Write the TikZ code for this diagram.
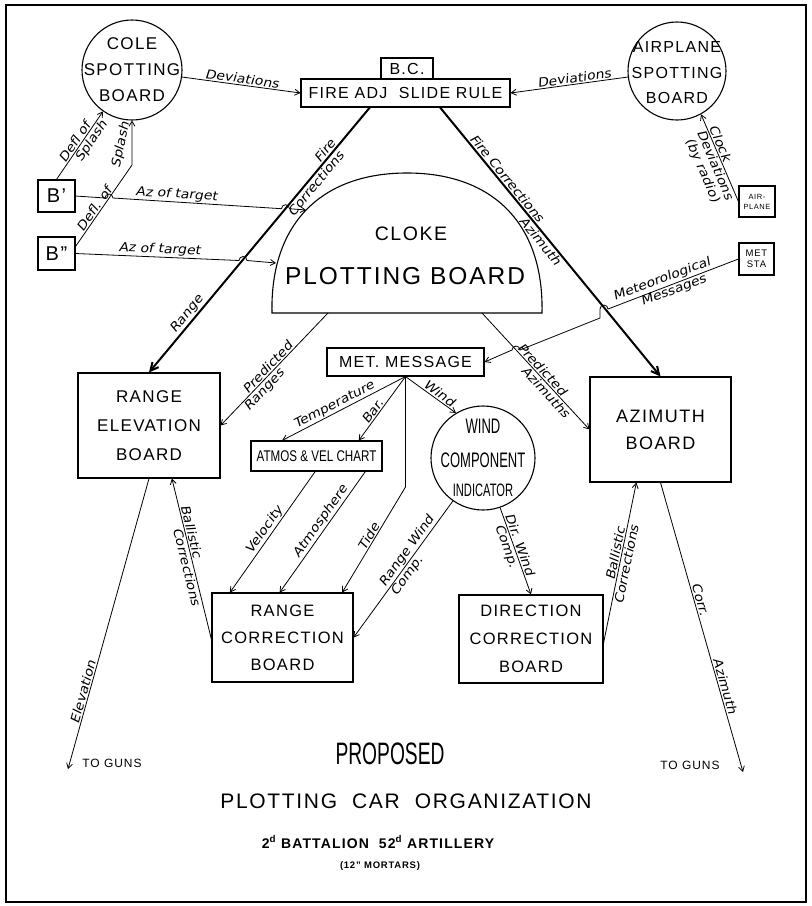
\documentclass[tikz,border=0pt]{standalone}
\usepackage{fontspec}
\setmainfont{Liberation Sans}[LetterSpace=8]
\newfontfamily\lblfont{DejaVu Sans}[FakeSlant=0.18,FakeStretch=1.12]
\newfontfamily\condA{Liberation Sans}[FakeStretch=0.62]
\newfontfamily\condB{Liberation Sans}[FakeStretch=0.75]
\usetikzlibrary{arrows.meta,calc}
\tikzset{
  box/.style={draw, line width=1.1pt, rectangle, inner sep=0pt, align=center},
  circ/.style={draw, line width=1.1pt, circle, inner sep=0pt},
  conn/.style={line width=0.8pt, -{Straight Barb[length=5pt,width=6pt]}},
  heavy/.style={line width=2pt, -{Straight Barb[length=8pt,width=8pt]}},
  lbl/.style={font=\lblfont\fontsize{12.5}{13.5}\selectfont, inner sep=1.2pt},
}
\begin{document}
\begin{tikzpicture}[x=1pt,y=-1pt]
\useasboundingbox (0,0) rectangle (812,906);
\draw[line width=1.8pt] (6,5) rectangle (806,902);

% ---------- top ----------
\node[circ, minimum size=100pt] (cole) at (132,70) {};
\node[align=center, font=\fontsize{17}{26}\selectfont] (coleT) at (132,70) {COLE\\SPOTTING\\BOARD};
\node[circ, minimum size=98pt] (apl) at (677,71) {};
\node[align=center, font=\fontsize{16}{25.5}\selectfont] (aplT) at (677,73) {AIRPLANE\\SPOTTING\\BOARD};

\node[box, minimum width=209pt, minimum height=28pt, font=\fontsize{16}{18}\selectfont] (fire) at (405.5,93) {FIRE ADJ~ SLIDE RULE};
\node[box, minimum width=52pt, minimum height=21pt, font=\fontsize{16}{18}\selectfont] (bc) at (407,68.5) {B.C.};

\node[box, minimum width=37pt, minimum height=32pt, font=\fontsize{20}{22}\selectfont] (b1) at (56.5,196) {B'};
\node[box, minimum width=37pt, minimum height=33pt, font=\fontsize{20}{22}\selectfont] (b2) at (56.5,253.5) {B''};

\node[box, minimum width=36pt, minimum height=31pt, font=\fontsize{7.5}{10}\selectfont] (apbox) at (757,201.5) {AIR-\\PLANE};
\node[box, minimum width=35pt, minimum height=32pt, font=\fontsize{9.5}{11}\selectfont] (metsta) at (756.5,259) {MET\\STA};

% ---------- dome ----------
\draw[line width=1.1pt] (272,313) .. controls (270,225) and (320,173) .. (407,173)
  .. controls (494,173) and (544,225) .. (542,313) -- cycle;
\node[font=\fontsize{19.5}{22}\selectfont] (cloke) at (411,234) {CLOKE};
\node[font=\fontsize{24.5}{26}\selectfont] (pb) at (405,276) {PLOTTING BOARD};
\coordinate (dA) at (306,210);
\coordinate (dB) at (276,263);
\coordinate (dPR) at (328,313);
\coordinate (dPA) at (482,313);

% ---------- middle ----------
\node[box, minimum width=142pt, minimum height=105pt, font=\fontsize{17}{29}\selectfont] (re) at (149,425.5) {RANGE\\ELEVATION\\BOARD};
\node[box, minimum width=141pt, minimum height=105pt, font=\fontsize{18}{27}\selectfont] (az) at (660.5,429.5) {AZIMUTH\\BOARD};
\node[box, minimum width=157pt, minimum height=28pt, font=\fontsize{16}{18}\selectfont] (met) at (405.5,362) {MET. MESSAGE};
\node[box, minimum width=131pt, minimum height=30pt, font=\condB\fontsize{15.5}{17}\selectfont] (atmos) at (316.5,456) {ATMOS \& VEL CHART};
\node[circ, minimum size=104pt] (wind) at (483,458) {};
\node[font=\condA\fontsize{21}{23}\selectfont] (w1) at (483,426) {WIND};
\node[font=\condA\fontsize{21}{23}\selectfont] (w2) at (483,460) {COMPONENT};
\node[font=\condA\fontsize{18}{20}\selectfont] (w3) at (483,490) {INDICATOR};

% ---------- bottom ----------
\node[box, minimum width=141pt, minimum height=89pt, font=\fontsize{16.5}{27}\selectfont] (rc) at (282.5,637.5) {RANGE\\CORRECTION\\BOARD};
\node[box, minimum width=144pt, minimum height=88pt, font=\fontsize{16.5}{28}\selectfont] (dc) at (531,639) {DIRECTION\\CORRECTION\\BOARD};

\node[font=\fontsize{12}{14}\selectfont] (g1) at (112,763) {TO GUNS};
\node[font=\fontsize{12}{14}\selectfont] (g2) at (690,765) {TO GUNS};
\coordinate (e1) at (68,769);
\coordinate (e2) at (743,772);

\node[font=\condA\fontsize{31}{33}\selectfont] (t1) at (390,754) {PROPOSED};
\node[font=\fontsize{21}{23}\selectfont] (t2) at (406,801) {PLOTTING~ CAR~ ORGANIZATION};
\node[font=\bfseries\fontsize{14}{16}\selectfont] (t3) at (378,842) {2\textsuperscript{d} BATTALION~ 52\textsuperscript{d} ARTILLERY};
\node[font=\bfseries\fontsize{9.5}{11}\selectfont] (t4) at (380,866) {(12" MORTARS)};

% ---------- coordinates ----------
\coordinate (bendB) at (132,165);
\coordinate (hA) at (109,198);
\coordinate (hB) at (285.5,208.7);
\coordinate (hC) at (243,260.5);
\coordinate (hD) at (604,309);
\coordinate (mB) at (600,318);
\coordinate (hE) at (516,350);
\coordinate (fL) at ($(fire.south west)!0.33!(fire.south east)$);
\coordinate (fR) at ($(fire.south west)!0.665!(fire.south east)$);
\coordinate (atT) at ($(atmos.north west)!0.24!(atmos.north east)$);
\coordinate (atB) at ($(atmos.north west)!0.82!(atmos.north east)$);
\coordinate (atV) at ($(atmos.south west)!0.49!(atmos.south east)$);
\coordinate (atA) at ($(atmos.south west)!0.87!(atmos.south east)$);
\coordinate (tideBend) at (405.5,487);
\coordinate (rcV) at ($(rc.north west)!0.13!(rc.north east)$);
\coordinate (rcA) at ($(rc.north west)!0.48!(rc.north east)$);
\coordinate (rcTide) at ($(rc.north west)!0.92!(rc.north east)$);
\coordinate (reB) at ($(re.south west)!0.66!(re.south east)$);
\coordinate (azB) at ($(az.south west)!0.33!(az.south east)$);

% ---------- connectors ----------
\draw[conn] (cole.-8) -- (fire.west) node[lbl, sloped, above, pos=0.5] {Deviations};
\draw[conn] (apl.187) -- (fire.east) node[lbl, sloped, above, pos=0.45] {Deviations};

\draw[conn] (b1.north) -- (cole.-125) node[lbl,sloped,above,pos=0.5]{Defl of} node[lbl,sloped,below,pos=0.62]{Splash};
\draw[conn] ($(b2.north east)+(0,10)$) coordinate (b2s) -- (bendB) -- (cole.-90);
\path (b2s) -- (bendB) node[lbl,sloped,above,pos=0.42]{Defl. of};
\node[lbl, rotate=78] (spl) at (121,145) {Splash};

\draw[conn] (b1.east) -- ([xshift=-4pt]hA) arc[start angle=180,end angle=0,radius=4pt]
  -- ([xshift=-4pt]hB) arc[start angle=180,end angle=0,radius=4pt] -- (dA);
\path (hA) -- (hB) node[lbl, sloped, above, pos=0.38] {Az of target};
\draw[conn] (b2.east) -- ([xshift=-4pt]hC) arc[start angle=180,end angle=0,radius=4pt] -- (dB);
\path (b2.east) -- (hC) node[lbl, sloped, above, pos=0.5] {Az of target};

\draw[heavy] (fL) -- (re.north) node[lbl,sloped,above,pos=0.18]{Fire} node[lbl,sloped,below,pos=0.27]{Corrections} node[lbl,sloped,above,pos=0.8]{Range};
\draw[heavy] (fR) -- (az.north) node[lbl,sloped,above,pos=0.28]{Fire Corrections} node[lbl,sloped,below,pos=0.48]{Azimuth};

\draw[conn] (apbox.west) -- (apl.-61) node[lbl,sloped,above,pos=0.64]{Clock} node[lbl,sloped,below,pos=0.45,align=center]{Deviations\\(by radio)};

\draw[conn] (metsta.west) -- ([xshift=4pt]hD) arc[start angle=0,end angle=180,radius=4pt]
  -- (mB) -- ([xshift=4pt]hE) arc[start angle=0,end angle=180,radius=4pt] -- (met.east);
\path (metsta.west) -- (hD) node[lbl, sloped, above, pos=0.55]{Meteorological} node[lbl, sloped, below, pos=0.5]{Messages};

\draw[conn] (dPR) -- (re.east) node[lbl,sloped,above,pos=0.52]{Predicted} node[lbl,sloped,below,pos=0.64]{Ranges};
\draw[conn] (dPA) -- (az.west) node[lbl,sloped,above,pos=0.52]{Predicted} node[lbl,sloped,below,pos=0.64]{Azimuths};

\draw[conn] (met.south) -- (atT) node[lbl,sloped,above,pos=0.55]{Temperature};
\draw[conn] (met.south) -- (atB) node[lbl,sloped,above,pos=0.6]{Bar.};
\draw[conn] (met.south) -- (tideBend) -- (rcTide);
\path (tideBend) -- (rcTide) node[lbl,sloped,above,pos=0.5]{Tide};
\draw[conn] (met.south) -- (wind.121) node[lbl,sloped,above,pos=0.6]{Wind};

\draw[conn] (atV) -- (rcV) node[lbl,sloped,above,pos=0.52]{Velocity};
\draw[conn] (atA) -- (rcA) node[lbl,sloped,above,pos=0.45]{Atmosphere};

\draw[conn] (wind.235) -- (rc.east) node[lbl,sloped,above,pos=0.4]{Range Wind} node[lbl,sloped,below,pos=0.52]{Comp.};
\draw[conn] (wind.-71) -- (dc.north) node[lbl,sloped,above,pos=0.45]{Dir. Wind} node[lbl,sloped,below,pos=0.42]{Comp.};

\draw[conn] ($(rc.west)+(0,2)$) -- (reB) node[lbl,sloped,above,pos=0.66]{Ballistic} node[lbl,sloped,below,pos=0.46]{Corrections};
\draw[conn] ($(dc.east)+(0,4)$) -- (azB) node[lbl,sloped,above,pos=0.55]{Ballistic} node[lbl,sloped,below,pos=0.5]{Corrections};

\draw[conn] (re.south) -- (e1) node[lbl,sloped,above,pos=0.74]{Elevation};
\draw[conn] (az.south) -- (e2) node[lbl,sloped,above,pos=0.41]{Corr.} node[lbl,sloped,above,pos=0.71]{Azimuth};
\end{tikzpicture}
\end{document}
